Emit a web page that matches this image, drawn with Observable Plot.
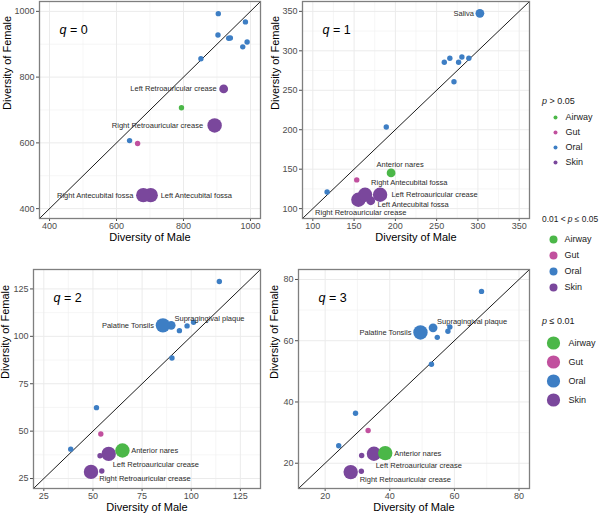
<!DOCTYPE html>
<html><head><meta charset="utf-8">
<script src="https://cdn.jsdelivr.net/npm/d3@7"></script>
<script src="https://cdn.jsdelivr.net/npm/@observablehq/plot@0.6"></script>
<style>
body{margin:0;background:#fff;font-family:"Liberation Sans",Arial,Helvetica,sans-serif;}
#wrap{position:relative;width:600px;height:514px;overflow:hidden;background:#fff;}
.pos{position:absolute;}
.lt{position:absolute;font-size:9px;line-height:11px;color:#1a1a1a;white-space:nowrap;}
</style></head><body><div id="wrap"></div>
<script>
// ---------------- data ----------------
const sites = ["Anterior nares","Stool","Saliva","Palatine Tonsils","Supragingival plaque","Buccal mucosa","Keratinized gingiva","Hard palate","Throat","Subgingival plaque","Tongue dorsum","Left Retroauricular crease","Right Retroauricular crease","Left Antecubital fossa","Right Antecubital fossa"];
const areas = ["Airway","Gut","Oral","Oral","Oral","Oral","Oral","Oral","Oral","Oral","Oral","Skin","Skin","Skin","Skin"];
const areaDomain = ["Airway","Gut","Oral","Skin"];
const NS = "p > 0.05", S1 = "0.01 < p ≤ 0.05", S2 = "p ≤ 0.01";
const pDomain = [NS, S1, S2];

const maleQ0   = [794, 663, 985, 935, 990, 903, 940, 904, 977, 852, 639, 920, 893, 702, 680];
const femaleQ0 = [707, 598, 968, 918, 907, 928, 919, 993, 892, 856, 607, 764, 653, 441, 441];
const pQ0      = [NS, NS, NS, NS, NS, NS, NS, NS, NS, NS, NS, S1, S2, S2, S2];

const maleQ1   = [194.8, 153.2, 302.4, 259.3, 266, 276.6, 280.6, 289, 271, 189, 117.3, 181.5, 155.2, 170.2, 163.3];
const femaleQ1 = [145.2, 136.4, 347.5, 285.5, 290.5, 285.5, 292.2, 290.5, 260.8, 203.4, 121, 117.6, 111.3, 110, 117.6];
const pQ1      = [S1, NS, S1, NS, NS, NS, NS, NS, NS, NS, NS, S2, S2, S1, S2];

const maleQ2   = [65, 54, 114.3, 85.6, 89.8, 94, 97.9, 101.2, 90.2, 51.8, 38.7, 58, 49, 53.6, 54.5];
const femaleQ2 = [39.8, 48.5, 128.9, 105.8, 105.8, 103, 105.5, 107.4, 88.6, 62.4, 40.5, 38, 28.5, 37, 29];
const pQ2      = [S2, NS, NS, S2, S1, NS, NS, NS, NS, NS, NS, S2, S2, NS, NS];

const maleQ3   = [38.6, 33.3, 68.4, 49.5, 53.4, 54.7, 58, 58.6, 52.9, 29.4, 24.2, 35.1, 27.9, 31.3, 31.2];
const femaleQ3 = [23.3, 30.7, 76.1, 62.7, 64.2, 61.1, 63.1, 64.5, 52.3, 36.3, 25.7, 23.1, 17.1, 22.5, 17.4];
const pQ3      = [S2, NS, NS, S2, S1, NS, NS, NS, NS, NS, NS, S2, S2, NS, NS];

const qValues = ["0", "1", "2", "3"];
const limitsQ0 = [370, 1030], ticksQ0 = [400, 600, 800, 1000], minorQ0 = [500, 700, 900];
const limitsQ1 = [87.5, 362.5], ticksQ1 = [100, 150, 200, 250, 300, 350], minorQ1 = [125, 175, 225, 275, 325];
const limitsQ2 = [19.75, 135.25], ticksQ2 = [25, 50, 75, 100, 125], minorQ2 = [37.5, 62.5, 87.5, 112.5];
const limitsQ3 = [11.75, 83.25], ticksQ3 = [20, 40, 60, 80], minorQ3 = [30, 50, 70];

// ---------------- styles ----------------
const areaColors = ["#4bb748", "#c1509e", "#3d7ec4", "#7a479c"];
const radius = {[NS]: 2.7, [S1]: 4.4, [S2]: 7.2};
const legendRadius = {[NS]: 2, [S1]: 4, [S2]: 6.6};
const FONT = "'Liberation Sans', Arial, Helvetica, sans-serif";

// label placement (repel-like offsets, px)
const labelsQ0 = [
  ["Left Retroauricular crease", "end", -7, 0],
  ["Right Retroauricular crease", "end", -11.5, 0],
  ["Right Antecubital fossa", "end", -10, 0],
  ["Left Antecubital fossa", "start", 10, 0]
];
const labelsQ1 = [
  ["Saliva", "end", -6, 0],
  ["Anterior nares", "middle", 9, -8.7],
  ["Right Antecubital fossa", "start", 6, -12.3],
  ["Left Retroauricular crease", "start", 11.3, 0],
  ["Left Antecubital fossa", "start", 6.7, 3.8],
  ["Right Retroauricular crease", "start", -43.3, 12.8]
];
const labelsQ2 = [
  ["Palatine Tonsils", "end", -9, 0.7],
  ["Supragingival plaque", "start", 3.3, -6.3],
  ["Anterior nares", "start", 8.7, 0],
  ["Left Retroauricular crease", "start", 4, 10.3],
  ["Right Retroauricular crease", "start", 8.3, 7]
];
const labelsQ3 = [
  ["Palatine Tonsils", "end", -9, 0],
  ["Supragingival plaque", "start", 4, -6.7],
  ["Anterior nares", "start", 9, 0.7],
  ["Left Retroauricular crease", "start", 1.7, 11.7],
  ["Right Retroauricular crease", "start", 9, 7.7]
];

const panels = [
  {q: qValues[0], male: maleQ0, female: femaleQ0, p: pQ0, limits: limitsQ0, ticks: ticksQ0, minor: minorQ0, labels: labelsQ0,
   left: 0, top: 0, width: 262, height: 250, mL: 39, mR: 2, mT: 1, mB: 32, yTitleDx: -32},
  {q: qValues[1], male: maleQ1, female: femaleQ1, p: pQ1, limits: limitsQ1, ticks: ticksQ1, minor: minorQ1, labels: labelsQ1,
   left: 262, top: 0, width: 270, height: 250, mL: 40, mR: 3, mT: 1, mB: 32, yTitleDx: -27.5},
  {q: qValues[2], male: maleQ2, female: femaleQ2, p: pQ2, limits: limitsQ2, ticks: ticksQ2, minor: minorQ2, labels: labelsQ2,
   left: 0, top: 252, width: 262, height: 262, mL: 33, mR: 2, mT: 17, mB: 26, yTitleDx: -28.5},
  {q: qValues[3], male: maleQ3, female: femaleQ3, p: pQ3, limits: limitsQ3, ticks: ticksQ3, minor: minorQ3, labels: labelsQ3,
   left: 262, top: 252, width: 270, height: 262, mL: 36, mR: 3, mT: 17, mB: 26, yTitleDx: -24}
];

const wrap = document.getElementById("wrap");
const drawOrder = ["Skin", "Oral", "Gut", "Airway"];

for (const P of panels) {
  const rows = sites.map((s, i) => ({site: s, area: areas[i], male: P.male[i], female: P.female[i], p: P.p[i]}));
  const dotMarks = [];
  for (const pc of pDomain) {
    const sub = rows.filter(d => d.p === pc)
      .sort((a, b) => drawOrder.indexOf(a.area) - drawOrder.indexOf(b.area));
    dotMarks.push(Plot.dot(sub, {x: "male", y: "female", fill: "area", r: radius[pc], stroke: "none"}));
  }
  const labelMarks = P.labels.map(([name, anchor, dx, dy]) =>
    Plot.text(rows.filter(d => d.site === name), {
      x: "male", y: "female", text: "site", textAnchor: anchor, dx, dy,
      fontSize: 7.5, fill: "#2b2b2b", fontFamily: FONT
    }));
  const chart = Plot.plot({
    width: P.width, height: P.height,
    marginLeft: P.mL, marginRight: P.mR, marginTop: P.mT, marginBottom: P.mB,
    style: {fontSize: "9px", fontFamily: FONT, color: "#4d4d4d", background: "transparent", overflow: "visible"},
    x: {domain: P.limits, ticks: P.ticks, tickSize: 3, tickPadding: 1.5, tickFormat: "d", label: null},
    y: {domain: P.limits, ticks: P.ticks, tickSize: 3, tickPadding: 2, tickFormat: "d", label: null},
    color: {domain: areaDomain, range: areaColors},
    marks: [
      Plot.ruleX(P.minor, {stroke: "#f0f0f0", strokeWidth: 0.6}),
      Plot.ruleY(P.minor, {stroke: "#f0f0f0", strokeWidth: 0.6}),
      Plot.ruleX(P.ticks, {stroke: "#ebebeb", strokeWidth: 1}),
      Plot.ruleY(P.ticks, {stroke: "#ebebeb", strokeWidth: 1}),
      Plot.line(P.limits, {x: d => d, y: d => d, stroke: "#000", strokeWidth: 0.9, clip: true}),
      ...dotMarks,
      ...labelMarks,
      Plot.frame({stroke: "#7f7f7f", strokeWidth: 1.3}),
      Plot.text(["q"], {text: d => d, frameAnchor: "top-left", dx: 20, dy: 24, textAnchor: "start", fontSize: 12.5, fontStyle: "italic", fill: "#000", fontFamily: FONT}),
      Plot.text(["= " + P.q], {text: d => d, frameAnchor: "top-left", dx: 30.5, dy: 24, textAnchor: "start", fontSize: 12.5, fill: "#000", fontFamily: FONT}),
      Plot.text(["Diversity of Male"], {text: d => d, frameAnchor: "bottom", dy: 22, fontSize: 11, fill: "#000", fontFamily: FONT}),
      Plot.text(["Diversity of Female"], {text: d => d, frameAnchor: "left", dx: P.yTitleDx, rotate: -90, fontSize: 11, fill: "#000", fontFamily: FONT})
    ]
  });
  chart.classList.add("pos");
  chart.style.left = P.left + "px";
  chart.style.top = P.top + "px";
  wrap.appendChild(chart);
}

// ---------------- legend ----------------
const legendGroups = [
  {p: NS, titleHtml: "<i>p</i> &gt; 0.05", titleTop: 96, rowsTop: 106.8, rowH: 16.3, dotX: 12, textX: 22, fs: 9},
  {p: S1, titleHtml: "0.01 &lt; <i>p</i> ≤ 0.05", titleTop: 214, rowsTop: 228.5, rowH: 17, dotX: 10, textX: 21, fs: 8.4},
  {p: S2, titleHtml: "<i>p</i> ≤ 0.01", titleTop: 316, rowsTop: 332, rowH: 19.5, dotX: 10, textX: 25, fs: 9}
];
const LX = 542;
for (const g of legendGroups) {
  const t = document.createElement("div");
  t.className = "lt";
  t.style.left = LX + "px";
  t.style.top = g.titleTop + "px";
  t.style.fontSize = g.fs + "px";
  t.innerHTML = g.titleHtml;
  wrap.appendChild(t);
  const lg = Plot.plot({
    width: 57, height: g.rowH * areaDomain.length, margin: 0,
    style: {fontFamily: FONT, background: "transparent", overflow: "visible"},
    x: {axis: null},
    y: {type: "band", domain: areaDomain, axis: null},
    color: {domain: areaDomain, range: areaColors},
    marks: [
      Plot.dot(areaDomain, {y: d => d, fill: d => d, r: legendRadius[g.p], frameAnchor: "left", dx: g.dotX + 1}),
      Plot.text(areaDomain, {y: d => d, text: d => d, frameAnchor: "left", dx: g.textX + 1, textAnchor: "start", fontSize: 9, fill: "#1a1a1a"})
    ]
  });
  lg.classList.add("pos");
  lg.style.left = LX + "px";
  lg.style.top = g.rowsTop + "px";
  wrap.appendChild(lg);
}
</script></body></html>
